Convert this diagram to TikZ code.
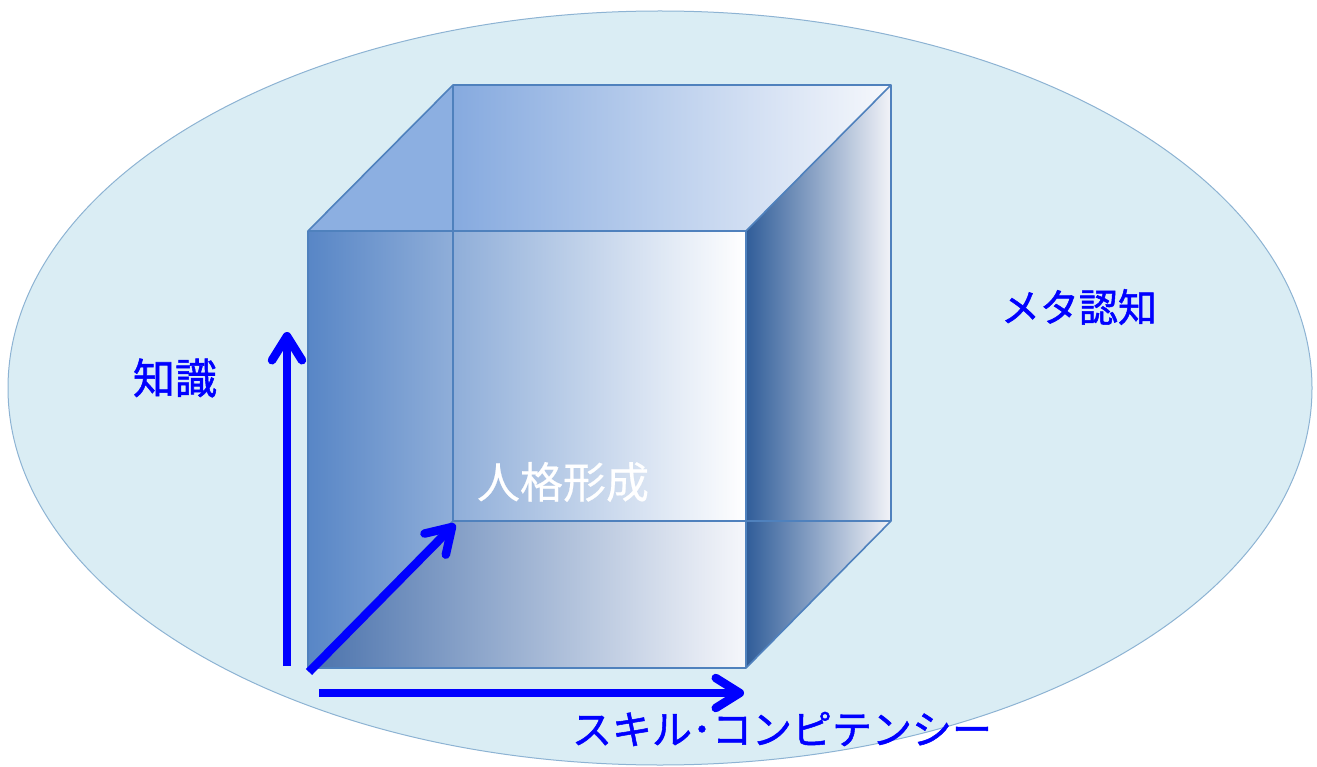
\documentclass[tikz,border=0pt]{standalone}
\usepackage{fontspec}
\newfontfamily\jpfont[FakeBold=1.3]{Noto Sans CJK JP}
\newfontfamily\jplight[FakeBold=0.5]{Noto Sans CJK JP}
\usetikzlibrary{arrows.meta}
\definecolor{bgfill}{HTML}{DAEDF4}
\definecolor{bgline}{HTML}{8DB3D3}
\definecolor{edge}{HTML}{4F81BD}
\definecolor{axis}{HTML}{0000FF}
\tikzset{
  cubeedge/.style={draw=edge, line width=1.6pt, line join=round},
  axisarrow/.style={draw=axis, line width=8.5pt, -{Straight Barb[length=24pt,width=30pt,round]}},
  axislabel/.style={text=axis, font=\jpfont\fontsize{39pt}{44pt}\selectfont, inner sep=0pt},
}
\begin{document}
\begin{tikzpicture}[x=1pt,y=-1pt]
\useasboundingbox (0,0) rectangle (1317,767);
% background ellipse
\path[fill=bgfill, draw=bgline, line width=1pt] (660,388) ellipse [x radius=652, y radius=377];
% cube corners
\coordinate (F1) at (308,231); \coordinate (F2) at (746,231);
\coordinate (F3) at (746,668); \coordinate (F4) at (308,668);
\coordinate (B1) at (453,85);  \coordinate (B2) at (891,85);
\coordinate (B3) at (891,521); \coordinate (B4) at (453,521);
\coordinate (M1) at (453,231); \coordinate (M2) at (746,521);
% front face
\shade[left color={rgb,255:red,88;green,134;blue,198}, right color=white] (F1) rectangle (F3);
% left face top triangle
\fill[color={rgb,255:red,140;green,175;blue,225}] (F1) -- (B1) -- (M1) -- cycle;
% top band
\shade[left color={rgb,255:red,134;green,170;blue,223}, right color={rgb,255:red,246;green,248;blue,252}] (B1) -- (B2) -- (F2) -- (M1) -- cycle;
% bottom face (seen through front)
\shade[left color={rgb,255:red,74;green,114;blue,172}, right color={rgb,255:red,246;green,247;blue,251}] (F4) -- (B4) -- (M2) -- (F3) -- cycle;
% right face
\shade[left color={rgb,255:red,48;green,93;blue,153}, right color={rgb,255:red,242;green,243;blue,248}] (F2) -- (B2) -- (B3) -- (F3) -- cycle;
% edges
\draw[cubeedge] (F1) -- (B1) -- (B2) -- (B3) -- (F3) -- (F4) -- cycle;
\draw[cubeedge] (B1) -- (B4) -- (B3);
\draw[cubeedge] (F4) -- (B4);
\draw[cubeedge] (F1) -- (F2) -- (F3);
\draw[cubeedge] (F2) -- (B2);
% axes
\coordinate (V0) at (287,666); \coordinate (V1) at (287,332);
\coordinate (H0) at (319,693); \coordinate (H1) at (744,693);
\coordinate (D0) at (309,672); \coordinate (D1) at (455,524);
\draw[axisarrow] (V0) -- (V1);
\draw[axisarrow] (H0) -- (H1);
\draw[axisarrow] (D0) -- (D1);
% labels
\node[axislabel, font=\jpfont\fontsize{42pt}{46pt}\selectfont] (know) at (175,378) {知識};
\node[axislabel] (meta) at (1079,307) {メタ認知};
\node[axislabel, text=white, font=\jplight\fontsize{43pt}{48pt}\selectfont] (pers) at (563,482) {人格形成};
\node[axislabel, font=\jpfont\fontsize{40pt}{44pt}\selectfont] (skill) at (782,729) {スキル･コンピテンシー};
\end{tikzpicture}
\end{document}
